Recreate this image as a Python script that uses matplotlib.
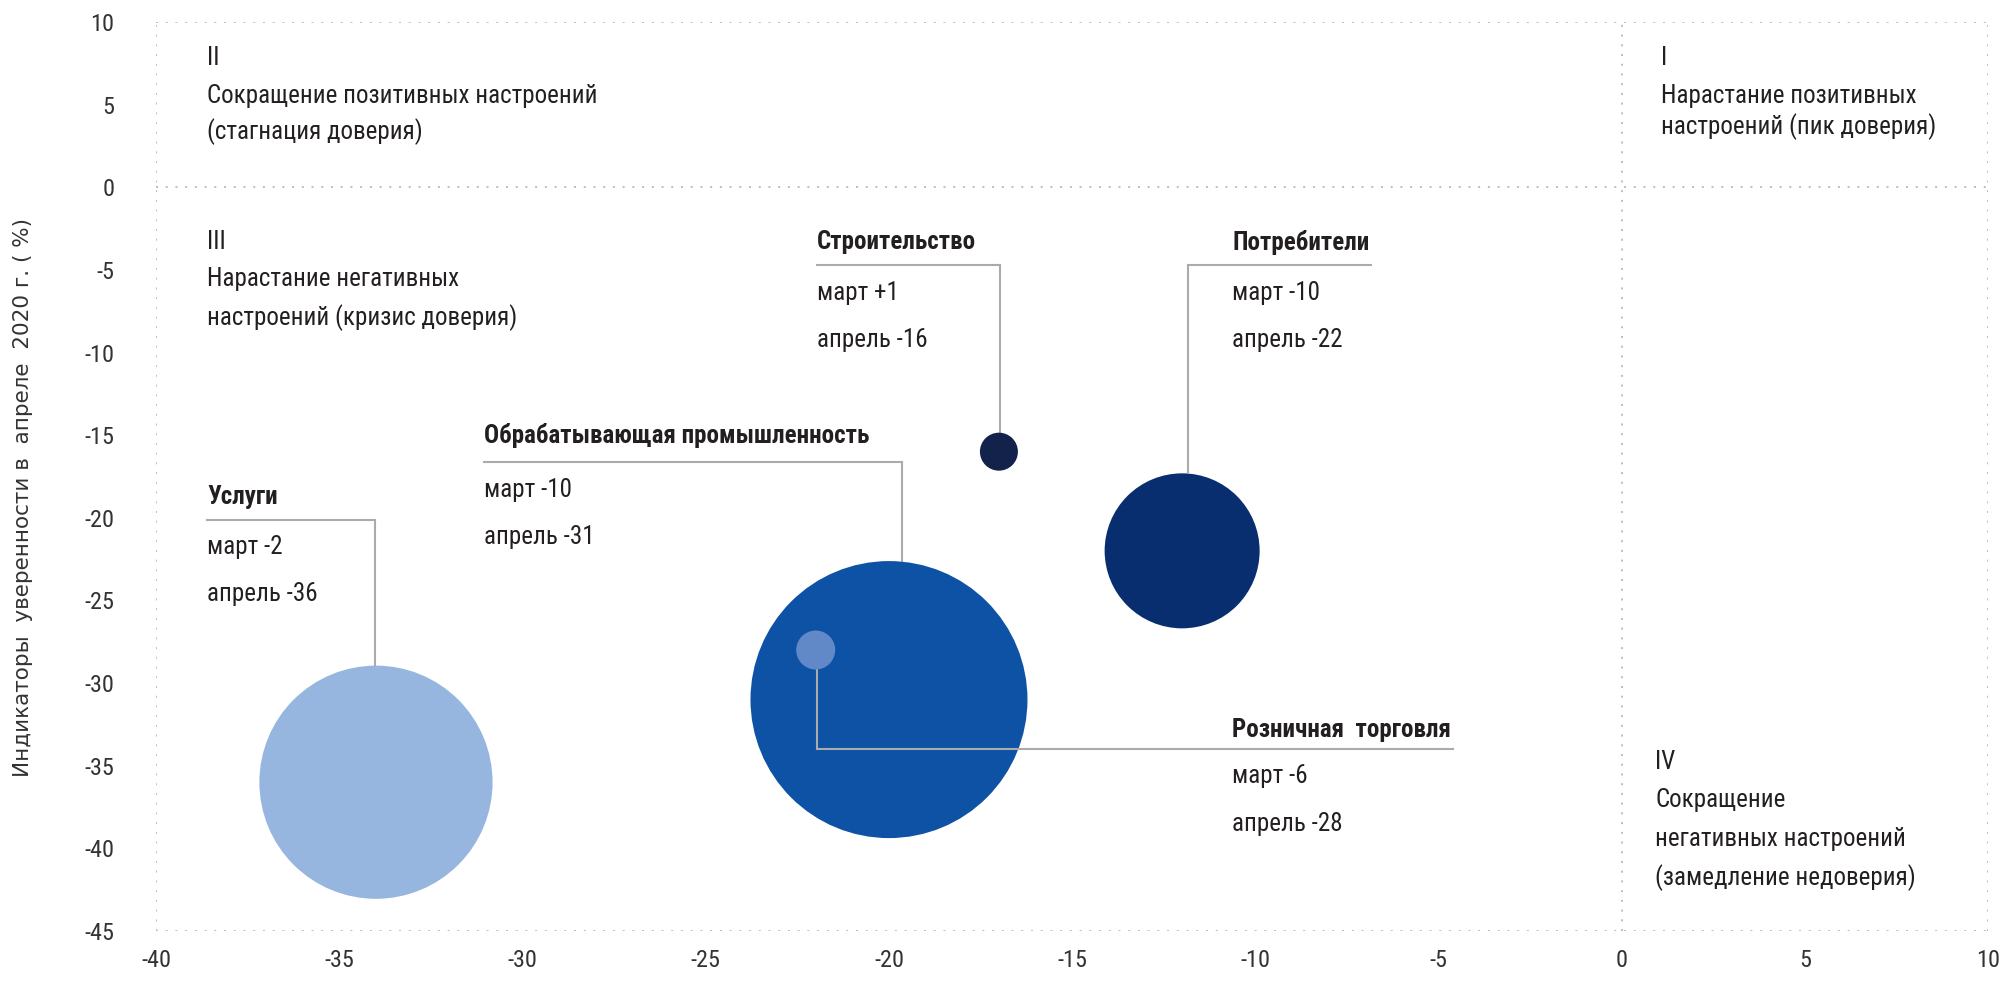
import matplotlib.pyplot as plt
from matplotlib import font_manager

# данные: опрос доверия, март/апрель 2020
sectors = ["Услуги", "Обрабатывающая промышленность", "Потребители",
           "Строительство", "Розничная  торговля"]
x_vals = [-34, -20, -12, -17, -22]
y_vals = [-36, -31, -22, -16, -28]
march = ["-2", "-10", "-10", "+1", "-6"]
april = ["-36", "-31", "-22", "-16", "-28"]
# относительный размер пузыря (радиус)
bubble_r = [116.6, 138.5, 77.5, 19, 19.5]
colors = ["#97B6DF", "#0D52A5", "#082E70", "#13224A", "#6189C7"]

# подписи и выноски: x текста, y подписи, y линии, x конца линии, x вертикали, y конца вертикали
lab_x = [-38.6, -31.05, -10.63, -21.96, -10.63]
lab_y = [-18.74, -15.02, -3.32, -3.32, -32.84]
line_y = [-20.13, -16.65, -4.72, -4.72, -34.0]
line_x0 = [-38.6, -31.05, -11.85, -21.96, -21.96]
line_x1 = [-34.02, -19.65, -6.85, -16.96, -4.62]
vert_x = [-34.02, -19.65, -11.85, -16.96, -21.96]
vert_y1 = [-29, -22.6, -17.2, -15.0, -28]

quad_x = [-38.6, -38.6, 1.08, 0.91]
quad_lines = [
    ["II", "Сокращение позитивных настроений", "(стагнация доверия)"],
    ["III", "Нарастание негативных", "настроений (кризис доверия)"],
    ["I", "Нарастание позитивных", "настроений (пик доверия)"],
    ["IV", "Сокращение", "негативных настроений", "(замедление недоверия)"],
]
quad_y = [[7.83, 5.51, 3.34], [-3.32, -5.57, -7.89], [7.83, 5.51, 3.65],
          [-34.78, -37.1, -39.42, -41.75]]

names = {f.name for f in font_manager.fontManager.ttflist}
main_font = "Roboto Condensed" if "Roboto Condensed" in names else "Roboto"
plt.rcParams["font.family"] = [main_font, "DejaVu Sans"]
plt.rcParams["axes.unicode_minus"] = False

fig = plt.figure(figsize=(20.09, 9.81), dpi=100)
ax = fig.add_axes([0.0777, 0.051, 0.912, 0.9266])
ax.set_xlim(-40, 10)
ax.set_ylim(-45, 10)
for s in ax.spines.values():
    s.set_visible(False)

grid_c = "#BDBDBD"
for yv in [10, 0, -45]:
    ax.axhline(yv, color=grid_c, lw=1.4, ls=(0, (1, 4)), zorder=0)
for xv in [-40, 0, 10]:
    ax.axvline(xv, color=grid_c, lw=1.4, ls=(0, (1, 4)), zorder=0)

ax.set_xticks(range(-40, 11, 5))
ax.set_yticks(range(-45, 11, 5))
ax.tick_params(length=0, labelsize=17.5, labelcolor="#333333")
ax.tick_params(axis="y", pad=30)
ax.tick_params(axis="x", pad=13)

text_c = "#231F20"
line_c = "#ABABAB"
fs = 18
for i in range(len(sectors)):
    s = (2 * bubble_r[i] * 72 / 100) ** 2
    ax.scatter(x_vals[i], y_vals[i], s=s, color=colors[i], edgecolors="none",
               zorder=2 if i < 3 else 4)
    zl = 3 if i == 4 else 1
    ax.plot([line_x0[i], line_x1[i]], [line_y[i], line_y[i]], color=line_c, lw=1.5, zorder=zl)
    ax.plot([vert_x[i], vert_x[i]], [line_y[i], vert_y1[i]], color=line_c, lw=1.5, zorder=zl)
    ax.text(lab_x[i], lab_y[i], sectors[i], fontsize=fs, fontweight="bold",
            color=text_c, va="center", ha="left")
    ax.text(lab_x[i], line_y[i] - 1.65, "март " + march[i], fontsize=fs,
            color=text_c, va="center", ha="left")
    ax.text(lab_x[i], line_y[i] - 4.5, "апрель " + april[i], fontsize=fs,
            color=text_c, va="center", ha="left")

for qx, lines, ys in zip(quad_x, quad_lines, quad_y):
    for t, yy in zip(lines, ys):
        ax.text(qx, yy, t, fontsize=fs, color=text_c, va="center", ha="left")

fig.text(0.0115, 0.493, "Индикаторы  уверенности в  апреле  2020 г. ( %)",
         rotation=90, va="center", ha="center", fontsize=15.5, color="#333333",
         family=["DejaVu Sans"])

fig.savefig("out.png", dpi=100)
